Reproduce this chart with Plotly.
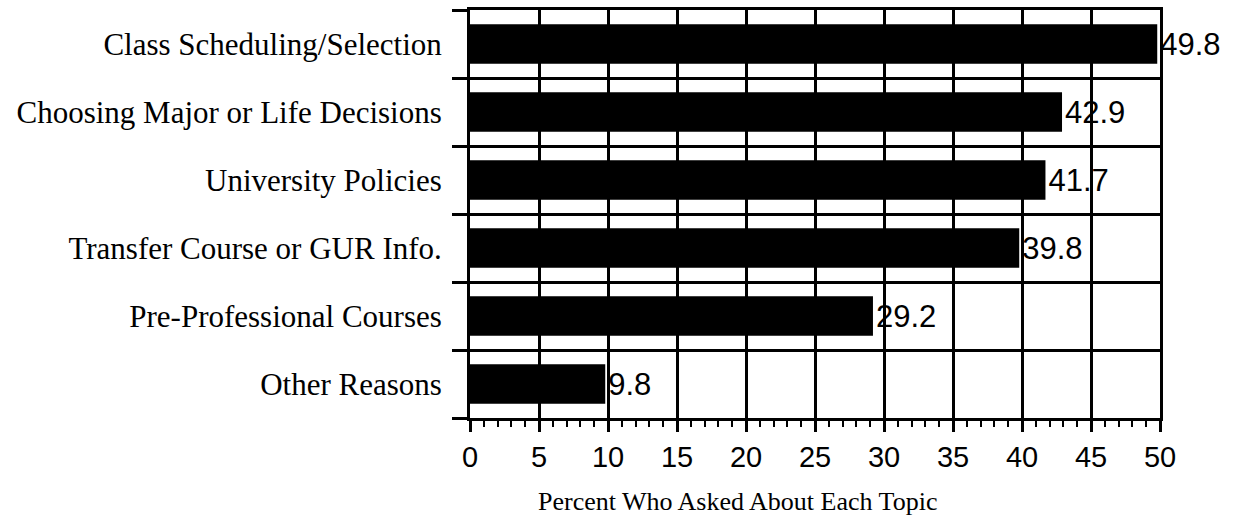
import plotly.graph_objects as go

categories = [
    "Class Scheduling/Selection",
    "Choosing Major or Life Decisions",
    "University Policies",
    "Transfer Course or GUR Info.",
    "Pre-Professional Courses",
    "Other Reasons",
]
values = [49.8, 42.9, 41.7, 39.8, 29.2, 9.8]
x_tick_vals = [0, 5, 10, 15, 20, 25, 30, 35, 40, 45, 50]
x_title = "Percent Who Asked About Each Topic"

serif = "Liberation Serif, Times New Roman, serif"
sans = "Liberation Sans, Arial, Helvetica, sans-serif"

fig = go.Figure(
    go.Bar(
        x=values,
        y=categories,
        orientation="h",
        marker=dict(color="black", line=dict(width=0)),
        width=0.58,
        text=[f"{v:.1f}" for v in values],
        textposition="outside",
        textfont=dict(family=sans, size=31, color="black"),
        cliponaxis=False,
    )
)

fig.update_layout(
    width=1235,
    height=517,
    margin=dict(l=470, r=75, t=7, b=99),
    paper_bgcolor="white",
    plot_bgcolor="white",
    showlegend=False,
    annotations=[
        dict(
            text=x_title,
            xref="paper",
            yref="paper",
            x=0.387,
            y=-0.205,
            xanchor="center",
            yanchor="middle",
            showarrow=False,
            font=dict(family=serif, size=26, color="black"),
        )
    ],
)

fig.update_xaxes(
    range=[0, 50],
    tickvals=x_tick_vals,
    ticks="outside",
    ticklen=11,
    tickwidth=3,
    tickcolor="black",
    minor=dict(dtick=1, ticks="outside", ticklen=6, tickwidth=2, tickcolor="black", showgrid=False),
    showgrid=True,
    gridcolor="black",
    gridwidth=3,
    showline=True,
    linecolor="black",
    linewidth=3,
    mirror=True,
    zeroline=False,
    tickfont=dict(family=sans, size=29, color="black"),
)

fig.update_yaxes(
    categoryorder="array",
    categoryarray=categories[::-1],
    tickson="boundaries",
    ticks="outside",
    ticklen=15,
    tickwidth=3,
    tickcolor="black",
    showgrid=True,
    gridcolor="black",
    gridwidth=3,
    showline=True,
    linecolor="black",
    linewidth=3,
    mirror=True,
    zeroline=False,
    tickfont=dict(family=serif, size=31, color="black"),
    ticklabelstandoff=19,
)

fig.write_html("out.html")
